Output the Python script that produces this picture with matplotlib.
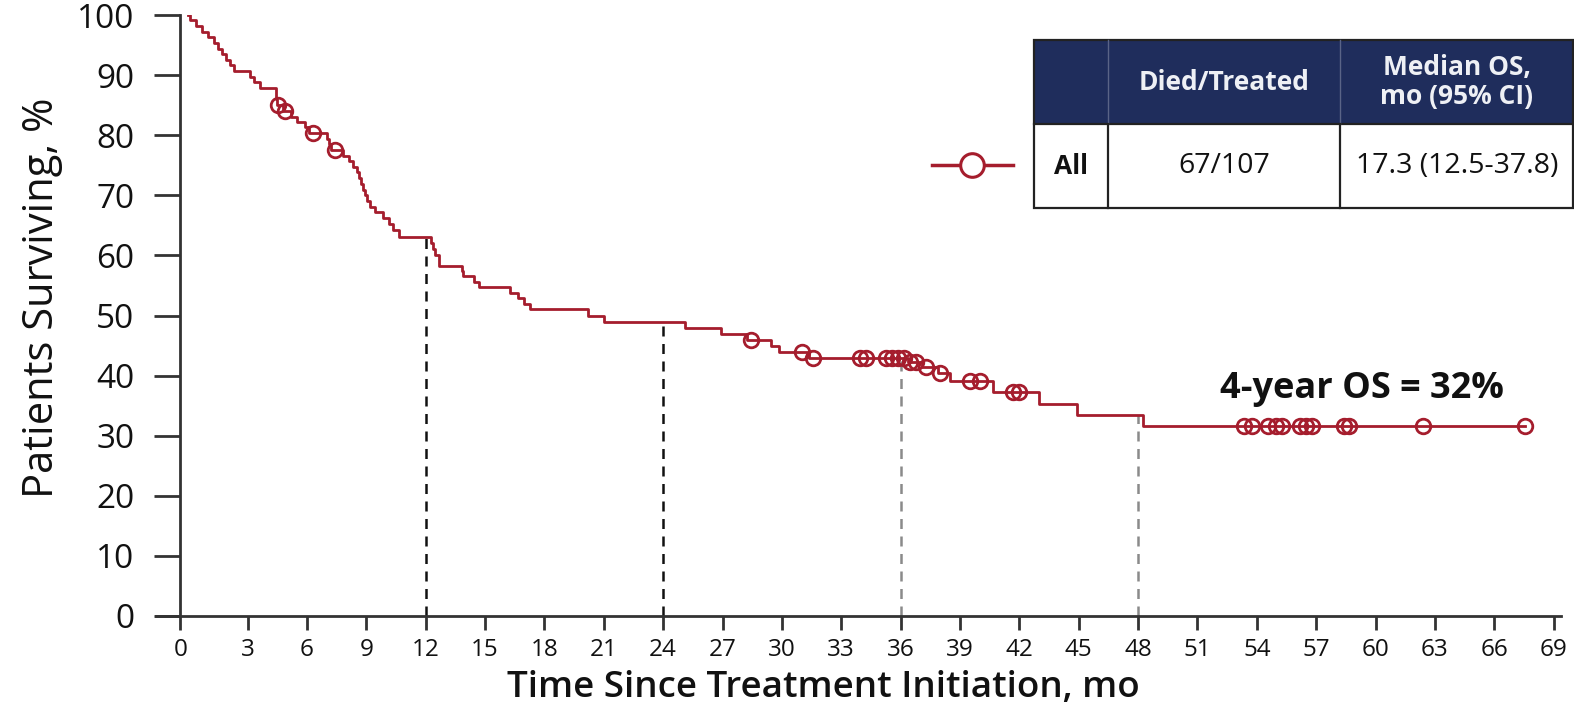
import numpy as np
import matplotlib
matplotlib.use('Agg')
import matplotlib.pyplot as plt
from matplotlib.patches import Rectangle

plt.rcParams['font.family'] = ['Open Sans', 'DejaVu Sans']

# step function (month, % surviving after the step)
step_times = [0, 0.1, 0.39, 0.69, 0.99, 1.29, 1.5, 1.7, 1.9, 2.1, 2.3, 3.1, 3.31,
              3.61, 4.41, 4.43, 4.46, 4.81, 5.21, 5.52, 5.92, 6.12, 7.02, 7.12, 7.22,
              7.83, 8.13, 8.33, 8.53, 8.63, 8.73, 8.83, 8.93, 9.03, 9.18, 9.44, 9.84,
              10.14, 10.34, 10.64, 12.25, 12.35, 12.45, 12.65, 13.81, 13.86, 14.46,
              14.71, 16.27, 16.67, 16.97, 17.28, 20.19, 21.0, 25.11, 26.92, 28.23,
              29.44, 29.84, 31.35, 36.37, 37.08, 37.88, 38.48, 40.69, 43.0, 44.91,
              48.23, 67.53]
step_surv = [100, 99.1, 98.1, 97.2, 96.3, 95.3, 94.4, 93.5, 92.5, 91.6, 90.7, 89.7,
             88.8, 87.9, 86.9, 86.0, 85.0, 84.1, 83.1, 82.2, 81.3, 80.4, 79.4, 78.5,
             77.6, 76.6, 75.7, 74.7, 73.8, 72.8, 71.9, 70.9, 70.0, 69.0, 68.1, 67.2,
             66.2, 65.3, 64.3, 63.0, 62.0, 61.0, 60.0, 58.3, 57.4, 56.5, 55.6, 54.8,
             53.8, 52.9, 51.9, 51.0, 49.9, 48.9, 47.9, 46.9, 45.9, 44.9, 43.9, 42.9,
             42.2, 41.4, 40.4, 39.1, 37.2, 35.3, 33.5, 31.6, 31.6]

censor_times = [4.51, 4.91, 6.32, 7.43, 28.43, 31.04, 31.55, 33.96, 34.26, 35.27,
                35.57, 35.87, 36.17, 36.47, 36.77, 37.28, 37.98, 39.49, 39.99, 41.7,
                42.0, 53.36, 53.76, 54.56, 54.97, 55.27, 56.17, 56.47, 56.78, 58.38,
                58.68, 62.4, 67.53]

landmarks = [12, 24, 36, 48]
landmark_colors = ['#111111', '#111111', '#8a8a8a', '#8a8a8a']

# the y axis sits a little left of month 0 in the original
y_axis_at = -0.4
x_ticks = [y_axis_at] + list(range(3, 70, 3))
x_labels = [str(v) for v in range(0, 70, 3)]
y_ticks = list(range(0, 101, 10))

header = ['', 'Died/Treated', 'Median OS,\nmo (95% CI)']
row = ['All', '67/107', '17.3 (12.5-37.8)']
annotation = '4-year OS = 32%'

red = '#a51d2d'
navy = '#1f2d5c'
W, H = 1574, 709


def surv_at(t):
    i = np.searchsorted(step_times, t, side='right') - 1
    return step_surv[i]


fig = plt.figure(figsize=(W / 100, H / 100), dpi=100)
ax = fig.add_axes([156 / W, 1 - 616 / H, (1561 - 156) / W, (616 - 15) / H])
ax.set_xlim(-1.63, 69.37)
ax.set_ylim(0, 100)

ax.step(step_times, step_surv, where='post', color=red, lw=2, zorder=3)
cy = [surv_at(t) for t in censor_times]
ax.plot(censor_times, cy, 'o', ms=10.5, mfc='none', mec=red, mew=2, zorder=4)

for t, c in zip(landmarks, landmark_colors):
    ax.plot([t, t], [0, surv_at(t)], color=c, lw=1.8, ls=(0, (4, 3)), zorder=2)

ax.text(59.3, 37.8, annotation, ha='center', va='center', fontsize=26,
        fontweight='bold', color='#111111')

for s in ['top', 'right']:
    ax.spines[s].set_visible(False)
ax.spines['left'].set_position(('data', y_axis_at))
for s in ['left', 'bottom']:
    ax.spines[s].set_color('#333333')
    ax.spines[s].set_linewidth(2)

ax.set_xticks(x_ticks)
ax.set_xticklabels(x_labels)
ax.set_yticks(y_ticks)
ax.tick_params(axis='x', direction='out', length=10, width=2, color='#333333',
               labelsize=17.5, pad=6, labelcolor='#111111')
ax.tick_params(axis='y', direction='out', length=19, width=2, color='#333333',
               labelsize=24, pad=14, labelcolor='#111111')

fig.text(42 / W, 1 - 298 / H, 'Patients Surviving, %', rotation=90, ha='center',
         va='center', fontsize=30, color='#111111')
fig.text(823 / W, 1 - 688 / H, 'Time Since Treatment Initiation, mo', ha='center',
         va='center', fontsize=26.5, fontweight='semibold', color='#111111')

# table + legend symbol in pixel coordinates
ov = fig.add_axes([0, 0, 1, 1])
ov.set_xlim(0, W)
ov.set_ylim(H, 0)
ov.axis('off')

col_edges = [1034, 1108, 1340, 1574]
row_edges = [40, 124, 208]
ov.add_patch(Rectangle((col_edges[0], row_edges[0]), col_edges[-1] - col_edges[0],
                       row_edges[1] - row_edges[0], facecolor=navy, edgecolor='none'))
ov.add_patch(Rectangle((col_edges[0], row_edges[0]), col_edges[-1] - col_edges[0] - 1,
                       row_edges[2] - row_edges[0], facecolor='none',
                       edgecolor='#222222', lw=1.6))
ov.plot([col_edges[0], col_edges[-1]], [row_edges[1]] * 2, color='#222222', lw=1.6)
for xe in col_edges[1:-1]:
    ov.plot([xe, xe], [row_edges[0], row_edges[1]], color='#5a6487', lw=1)
    ov.plot([xe, xe], [row_edges[1], row_edges[2]], color='#222222', lw=1.6)

for i in range(3):
    xc = (col_edges[i] + col_edges[i + 1]) / 2
    ov.text(xc, (row_edges[0] + row_edges[1]) / 2, header[i], ha='center',
            va='center', fontsize=19, fontweight='bold', color='#eef0f5',
            linespacing=1.05)
    ov.text(xc, (row_edges[1] + row_edges[2]) / 2, row[i], ha='center', va='center',
            fontsize=20.5 if i else 19, fontweight='bold' if i == 0 else 'normal',
            color='#111111')

ov.plot([932, 1013], [165, 165], color=red, lw=2.5)
ov.plot([972], [165], 'o', ms=17, mfc='white', mec=red, mew=2.2)

fig.savefig('out.png', dpi=100)
